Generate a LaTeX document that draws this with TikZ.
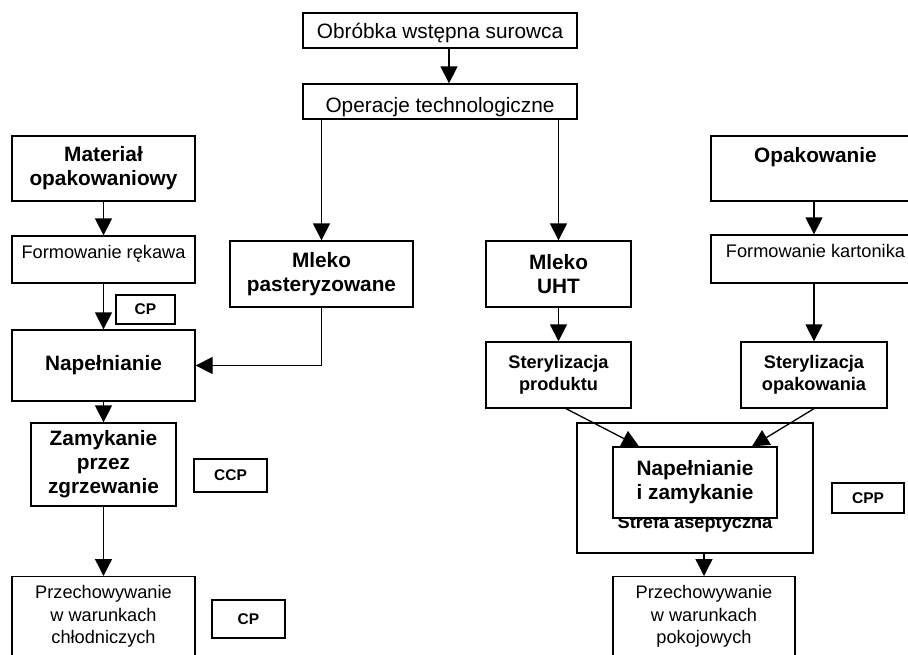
\documentclass[tikz,border=0pt]{standalone}
\usepackage{fontspec}
\setmainfont{Liberation Sans}
\usetikzlibrary{arrows.meta}

\newcommand\duzy{\fontsize{20.8}{24}\selectfont}
\newcommand\sredni{\fontsize{18.2}{22.5}\selectfont}
\newcommand\maly{\fontsize{15.5}{18}\selectfont\bfseries}

\tikzset{
    blok/.style={draw, line width=1.3pt, fill=white, align=center, inner sep=0pt},
    strz/.style={-{Triangle[length=17pt, width=17pt]}, line width=1.3pt}
}

\begin{document}
\begin{tikzpicture}[x=1pt, y=-1pt]
    \useasboundingbox (0,0) rectangle (908,654);
    \clip (0,0) rectangle (908,654);

    \node [blok, minimum width=274pt, minimum height=35pt, font=\duzy, text height=15pt, text depth=0pt] (obr) at (440,30.5) {Obróbka wstępna surowca};
    \node [blok, minimum width=274pt, minimum height=35pt, font=\duzy, text height=21pt, text depth=0pt] (ope) at (440,101.5) {Operacje technologiczne};

    \node [blok, minimum width=183pt, minimum height=65pt, font=\duzy\bfseries] (mat) at (103.5,168.5) {Materiał\\opakowaniowy};
    \node [blok, minimum width=209pt, minimum height=65pt, font=\duzy\bfseries, text height=15pt, text depth=28pt] (opk) at (815.5,168.5) {Opakowanie};
    \node [blok, minimum width=183pt, minimum height=47pt, font=\sredni, text height=13pt, text depth=16pt] (for) at (103.5,259.5) {Formowanie rękawa};
    \node [blok, minimum width=209pt, minimum height=48pt, font=\sredni, text height=13pt, text depth=16pt] (fork) at (815.5,259) {Formowanie kartonika};

    \node [blok, minimum width=183pt, minimum height=66pt, font=\duzy\bfseries] (mpa) at (321.5,274) {Mleko\\pasteryzowane};
    \node [blok, minimum width=145pt, minimum height=66pt, font=\duzy\bfseries] (uht) at (558.5,274) {Mleko\\UHT};

    \node [blok, minimum width=59pt, minimum height=29pt, font=\maly] (cpa) at (145.5,309.5) {CP};
    \node [blok, minimum width=183pt, minimum height=71pt, font=\duzy\bfseries] (nap) at (103.5,365.5) {Napełnianie};
    \node [blok, minimum width=145pt, minimum height=66pt, font=\sredni\bfseries] (stp) at (558.5,375) {Sterylizacja\\produktu};
    \node [blok, minimum width=146pt, minimum height=66pt, font=\sredni\bfseries] (sto) at (814,375) {Sterylizacja\\opakowania};

    \node [blok, minimum width=145pt, minimum height=83pt, font=\duzy\bfseries] (zam) at (103.5,464.5) {Zamykanie\\przez\\zgrzewanie};
    \node [blok, minimum width=73pt, minimum height=33pt, font=\maly] (ccp) at (230.5,475.5) {CCP};

    \node [blok, minimum width=236pt, minimum height=130pt] (ase) at (695,488) {};
    \node [font=\sredni\bfseries, anchor=base, inner sep=0pt] (strefa) at (695,528) {Strefa aseptyczna};
    \node [blok, minimum width=164pt, minimum height=71pt, font=\duzy\bfseries] (nz) at (695,482.5) {Napełnianie\\i zamykanie};
    \node [blok, minimum width=72pt, minimum height=30pt, font=\maly] (cpp) at (868,498) {CPP};

    \node [blok, minimum width=183pt, minimum height=80pt, font=\sredni, anchor=north] (prc) at (103.5,576) {Przechowywanie\\w warunkach\\chłodniczych};
    \node [blok, minimum width=73pt, minimum height=38pt, font=\maly] (cpb) at (248.5,619) {CP};
    \node [blok, minimum width=182pt, minimum height=80pt, font=\sredni, anchor=north] (prp) at (704,576) {Przechowywanie\\w warunkach\\pokojowych};

    \draw [strz] ([xshift=9pt]obr.south) -- ([xshift=9pt]ope.north);
    \draw [strz] (ope.south -| mpa.north) -- (mpa.north);
    \draw [strz] (ope.south -| uht.north) -- (uht.north);
    \draw [strz] (mat) -- (for);
    \draw [strz] (for) -- (nap);
    \draw [strz] (mpa.south) |- (nap.east);
    \draw [strz] (nap) -- (zam);
    \draw [strz] (zam) -- (prc);
    \draw [strz] ([xshift=-1.5pt]opk.south) -- ([xshift=-1.5pt]fork.north);
    \draw [strz] (fork.south -| sto.north) -- (sto.north);
    \draw [strz] (uht) -- (stp);
    \draw [strz] ([xshift=7.5pt]stp.south) -- ([xshift=-56pt]nz.north);
    \draw [strz] (sto.south) -- ([xshift=57pt]nz.north);
    \draw [strz] (ase.south -| prp.north) -- (prp.north);
\end{tikzpicture}
\end{document}
